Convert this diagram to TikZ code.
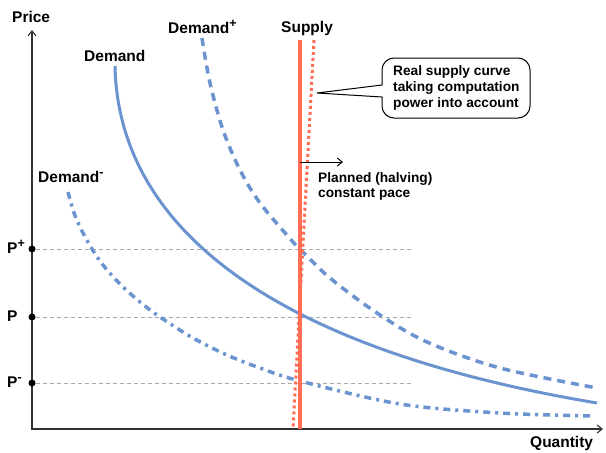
\documentclass[tikz,border=0pt]{standalone}
\usepackage{fontspec}
\setmainfont{Liberation Sans}
\usetikzlibrary{arrows.meta}
\definecolor{dblue}{HTML}{6A93CF}
\definecolor{supred}{HTML}{FF6E54}
\definecolor{gridgrey}{HTML}{A8A8A8}
\definecolor{axisgrey}{HTML}{333333}
\newcommand{\supmark}[1]{\raisebox{6pt}{\fontsize{12.5}{12.5}\selectfont #1}}
\begin{document}
\begin{tikzpicture}[x=1pt,y=-1pt,
  lbl/.style={font=\bfseries\fontsize{15.5}{18}\selectfont, inner sep=0pt},
  small/.style={font=\bfseries\fontsize{13.7}{15.6}\selectfont, inner sep=0pt, align=left},
  axisline/.style={draw=axisgrey, line width=1.1pt},
  gridline/.style={draw=gridgrey, line width=0.9pt, dash pattern=on 4pt off 3pt},
  pdot/.style={circle, fill=black, inner sep=0pt, minimum size=7pt},
  demsolid/.style={draw=dblue, line width=3pt},
  demdash/.style={draw=dblue, line width=3.5pt, dash pattern=on 8pt off 6pt},
  demdashdot/.style={draw=dblue, line width=3.5pt, dash pattern=on 7pt off 5pt on 3pt off 5pt},
  supsolid/.style={draw=supred, line width=3.5pt},
  supdot/.style={draw=supred, line width=3pt, dash pattern=on 3pt off 3pt}]
\useasboundingbox (0,0) rectangle (606,453);

% axes
\coordinate (O) at (32,429);
\coordinate (ytip) at (32,30);
\coordinate (xtip) at (603,429);
\draw[axisline, {Straight Barb[length=5pt,width=8pt]}-{Straight Barb[length=5pt,width=8pt]}] (ytip) -- (O) -- (xtip);
\node[lbl, anchor=base west] (price) at (12,22.7) {Price};
\node[lbl, anchor=base west] (qty) at (530,447.5) {Quantity};

% price levels
\node[pdot] (pp) at (32,249) {};
\node[pdot] (p0) at (32,317) {};
\node[pdot] (pm) at (32,383) {};
\coordinate (gpp) at (413,249);
\coordinate (gp0) at (413,317);
\coordinate (gpm) at (413,383);
\draw[gridline] (pp) -- (gpp);
\draw[gridline] (p0) -- (gp0);
\draw[gridline] (pm) -- (gpm);
\node[lbl, anchor=base west] (lpp) at (7,253.5) {P\supmark{+}};
\node[lbl, anchor=base west] (lp0) at (7,321) {P};
\node[lbl, anchor=base west] (lpm) at (7,387) {P\supmark{-}};

% demand curves
\coordinate (d0) at (115,66);
\coordinate (d1) at (597,403);
\draw[demsolid] (d0) .. controls (118,215) and (250,345) .. (d1);
\draw[demdash] plot[smooth, tension=0.55] coordinates {(202,38) (210,83) (223,130) (240,170) (260,203) (293,242) (300,249) (330,278) (377,313) (427,342) (500,368) (597,388)};
\draw[demdashdot] plot[smooth, tension=0.55] coordinates {(68,192) (74,213) (82,231) (92,249) (103,265) (120,284) (140,302) (160,317) (193,338) (227,355) (260,368) (300,381) (400,404) (500,413) (593,416)};

\node[lbl, anchor=base west] (ldem) at (84,61.5) {Demand};
\node[lbl, anchor=base west] (ldemp) at (168,33) {Demand\supmark{+}};
\node[lbl, anchor=base west] (ldemm) at (38,182) {Demand\supmark{-}};

% supply
\coordinate (s1) at (300,40);
\coordinate (s2) at (300,429);
\coordinate (r1) at (314,40);
\coordinate (r2) at (293,429);
\draw[supsolid] (s1) -- (s2);
\draw[supdot] (r1) -- (r2);
\node[lbl, anchor=base west] (lsup) at (281,32.5) {Supply};

% callout
\coordinate (ctip) at (317,93);
\draw[line width=1pt, line join=miter] (ctip) -- (382,97) [rounded corners=12pt] -- (382,118) -- (530,118) -- (530,58) -- (382,58) [sharp corners] -- (382,85) -- cycle;
\node[small, anchor=west] (callt) at (393,88) {Real supply curve\\taking computation\\power into account};

% planned pace arrow
\coordinate (a1) at (300,162);
\coordinate (a2) at (343,162);
\draw[line width=1pt, -{Straight Barb[length=5pt,width=8pt]}] (a1) -- (a2);
\node[small, anchor=north west] (plan) at (318,172) {Planned (halving)\\constant pace};
\end{tikzpicture}
\end{document}
